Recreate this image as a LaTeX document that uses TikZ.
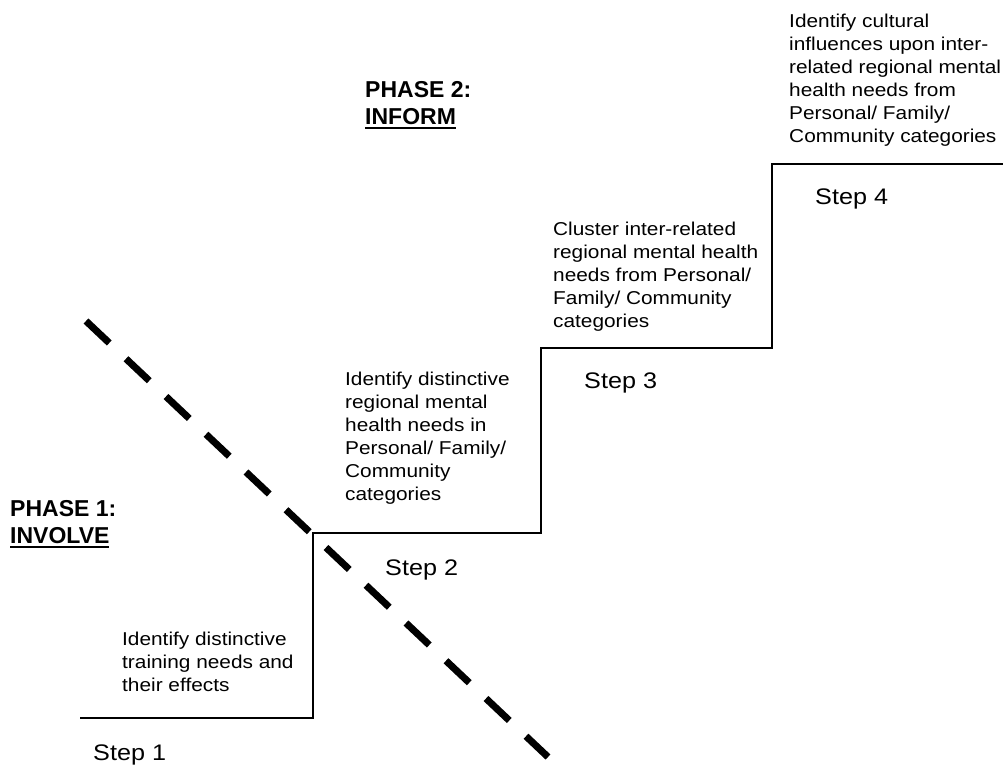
\documentclass[tikz,border=0pt]{standalone}
\usepackage{fontspec}
\setmainfont{Liberation Sans}
\newfontfamily\descfont{Liberation Sans}[FakeStretch=1.12]
% heading underline, heavier than the default \underline rule
\newcommand{\headrule}[1]{\setbox0\hbox{#1}\rlap{\rule[-4.5pt]{\wd0}{2.4pt}}\box0}
\begin{document}
\begin{tikzpicture}[x=1pt,y=-1pt]
\useasboundingbox (0,0) rectangle (1003,766);
\tikzset{
  stair/.style={line width=2pt, line join=miter},
  cut/.style={line width=7pt, dash pattern=on 32pt off 23pt},
  desc/.style={anchor=north west, inner sep=0pt, align=left,
    font=\descfont\fontsize{18.6}{23}\selectfont},
  steplabel/.style={anchor=base west, inner sep=0pt,
    font=\descfont\fontsize{22.5}{26}\selectfont},
  phase/.style={anchor=north west, inner sep=0pt, align=left,
    font=\bfseries\fontsize{23}{27.5}\selectfont},
}

% staircase outline
\coordinate (s0) at (80,718);
\coordinate (r1) at (313,718);
\coordinate (t1) at (313,533);
\coordinate (r2) at (541,533);
\coordinate (t2) at (541,348);
\coordinate (r3) at (772,348);
\coordinate (t3) at (772,164);
\coordinate (s4) at (1003,164);
\draw[stair] (s0) -- (r1) -- (t1) -- (r2) -- (t2) -- (r3) -- (t3) -- (s4);

% dividing line between the two phases
\coordinate (d0) at (86,321);
\coordinate (d1) at (548,757);
\draw[cut] (d0) -- (d1);

% phase headings
\node[phase] (ph1) at (10,500) {PHASE 1:\\\headrule{INVOLVE}};
\node[phase] (ph2) at (365,81) {PHASE 2:\\\headrule{INFORM}};

% step descriptions
\node[desc] (txt1) at (122,632) {Identify distinctive\\training needs and\\their effects};
\node[desc] (txt2) at (345,372) {Identify distinctive\\regional mental\\health needs in\\Personal/ Family/\\Community\\categories};
\node[desc] (txt3) at (553,222) {Cluster inter-related\\regional mental health\\needs from Personal/\\Family/ Community\\categories};
\node[desc] (txt4) at (789,14) {Identify cultural\\influences upon inter-\\related regional mental\\health needs from\\Personal/ Family/\\Community categories};

% step labels
\node[steplabel] (st1) at (93,760) {Step 1};
\node[steplabel] (st2) at (385,575) {Step 2};
\node[steplabel] (st3) at (584,388) {Step 3};
\node[steplabel] (st4) at (815,204) {Step 4};
\end{tikzpicture}
\end{document}
